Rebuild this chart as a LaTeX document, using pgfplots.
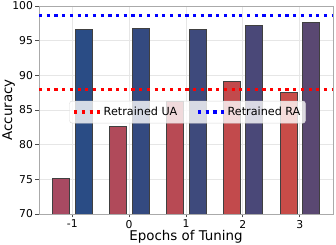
\documentclass[border=0pt]{standalone}
\usepackage{fontspec}
\setmainfont{DejaVu Sans}
\usepackage{pgfplots}
\pgfplotsset{compat=1.18}
\definecolor{rA}{HTML}{A84A62}
\definecolor{rB}{HTML}{B04A5A}
\definecolor{rC}{HTML}{B84A54}
\definecolor{rD}{HTML}{C24A4C}
\definecolor{rE}{HTML}{C84C48}
\definecolor{bA}{HTML}{2A4C85}
\definecolor{bB}{HTML}{344A80}
\definecolor{bC}{HTML}{3E4A7C}
\definecolor{bD}{HTML}{4A4878}
\definecolor{bE}{HTML}{5A4872}
\definecolor{gridc}{HTML}{E6E6E6}
\definecolor{framec}{HTML}{AAAAAA}
\begin{document}
\begin{tikzpicture}[x=1pt,y=1pt]
\useasboundingbox (-39pt,-31pt) rectangle (297pt,214pt);
\begin{axis}[
  at={(0pt,0pt)}, anchor=south west,
  width=294pt, height=208pt, scale only axis,
  xmin=-1.585, xmax=3.585, ymin=70, ymax=100,
  xtick={-1,0,1,2,3}, ytick={70,75,80,85,90,95,100},
  /pgf/number format/assume math mode=true,
  ticklabel style={font=\fontsize{10.8}{12.5}\selectfont},
  xticklabel style={yshift=1pt},
  yticklabel style={xshift=1pt},
  label style={font=\fontsize{13.4}{16}\selectfont},
  xlabel={Epochs of Tuning}, ylabel={Accuracy},
  xlabel style={at={(axis description cs:0.5,-0.108)}, anchor=center},
  ylabel style={at={(axis description cs:-0.1037,0.5)}, anchor=center},
  grid=major, major grid style={gridc, line width=0.8pt},
  axis line style={framec, line width=0.9pt},
  tick align=outside, major tick length=3.5pt,
  tick style={black!70, line width=0.8pt},
  xtick pos=bottom, ytick pos=left,
  ybar, bar width=0.3,
  legend columns=2,
  legend style={at={(0.505,0.49)}, anchor=center, draw=black!15, rounded corners=2.5pt,
    fill=white, fill opacity=0.8, text opacity=1,
    font=\fontsize{11.2}{13}\selectfont, inner xsep=3pt, inner ysep=4pt,
    /tikz/every even column/.append style={column sep=17pt}},
  legend image code/.code={\draw[#1] (0pt,0pt) -- (19pt,0pt); \path (0pt,0pt) -- (26pt,0pt);},
]
\addplot[fill=rA, draw=black!75, line width=0.6pt, bar shift=-0.2, forget plot] coordinates {(-1,75.1)};
\addplot[fill=rB, draw=black!75, line width=0.6pt, bar shift=-0.2, forget plot] coordinates {(0,82.7)};
\addplot[fill=rC, draw=black!75, line width=0.6pt, bar shift=-0.2, forget plot] coordinates {(1,86.2)};
\addplot[fill=rD, draw=black!75, line width=0.6pt, bar shift=-0.2, forget plot] coordinates {(2,89.2)};
\addplot[fill=rE, draw=black!75, line width=0.6pt, bar shift=-0.2, forget plot] coordinates {(3,87.5)};
\addplot[fill=bA, draw=black!75, line width=0.6pt, bar shift=0.2, forget plot] coordinates {(-1,96.6)};
\addplot[fill=bB, draw=black!75, line width=0.6pt, bar shift=0.2, forget plot] coordinates {(0,96.8)};
\addplot[fill=bC, draw=black!75, line width=0.6pt, bar shift=0.2, forget plot] coordinates {(1,96.6)};
\addplot[fill=bD, draw=black!75, line width=0.6pt, bar shift=0.2, forget plot] coordinates {(2,97.2)};
\addplot[fill=bE, draw=black!75, line width=0.6pt, bar shift=0.2, forget plot] coordinates {(3,97.6)};
\addplot[sharp plot, red, line width=3.2pt, dash pattern=on 3.2pt off 4.5pt] coordinates {(-1.585,88) (3.585,88)};
\addlegendentry{Retrained UA}
\addplot[sharp plot, blue, line width=3.2pt, dash pattern=on 3.2pt off 4.5pt] coordinates {(-1.585,98.6) (3.585,98.6)};
\addlegendentry{Retrained RA}
\end{axis}
\end{tikzpicture}
\end{document}
